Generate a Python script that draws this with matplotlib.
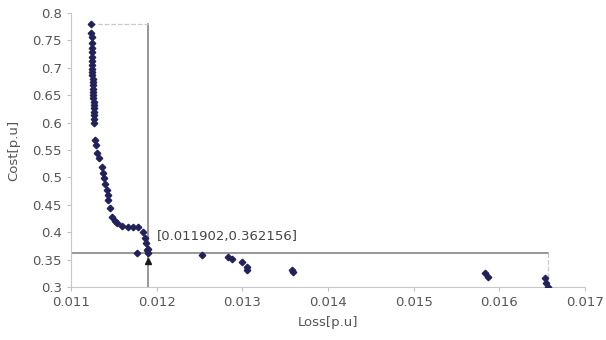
import numpy as np
import matplotlib.pyplot as plt
from matplotlib.ticker import FormatStrFormatter

# Pareto front: loss vs cost (p.u.)
loss = [0.01123, 0.01123, 0.01124, 0.01124, 0.01124, 0.01124, 0.01125, 0.01125,
        0.01125, 0.01125, 0.01125, 0.01125, 0.01126, 0.01126, 0.01126, 0.01126,
        0.01126, 0.01126, 0.01126, 0.01127, 0.01127, 0.01127, 0.01127, 0.01127,
        0.01127, 0.01127,
        0.01128, 0.01129, 0.01130, 0.01133, 0.01136, 0.01137, 0.01138, 0.01140,
        0.01142, 0.01143, 0.01143, 0.01145, 0.01148, 0.01151, 0.01154, 0.01160,
        0.01167, 0.01172, 0.01178, 0.01184, 0.01186, 0.01188, 0.01190, 0.01189,
        0.01177, 0.011902,
        0.01253, 0.01283, 0.01288, 0.01300, 0.01305, 0.01306, 0.01358, 0.01359,
        0.01583, 0.01587, 0.01653, 0.01655, 0.01657]
cost = [0.780, 0.763, 0.756, 0.745, 0.736, 0.729, 0.720, 0.712,
        0.705, 0.698, 0.692, 0.686, 0.680, 0.674, 0.668, 0.662,
        0.656, 0.650, 0.644, 0.638, 0.632, 0.626, 0.620, 0.614,
        0.607, 0.600,
        0.568, 0.560, 0.545, 0.535, 0.519, 0.508, 0.499, 0.488,
        0.477, 0.468, 0.459, 0.445, 0.428, 0.420, 0.417, 0.412,
        0.410, 0.410, 0.409, 0.400, 0.390, 0.380, 0.370, 0.368,
        0.362, 0.362156,
        0.358, 0.355, 0.351, 0.346, 0.337, 0.331, 0.331, 0.328,
        0.3255, 0.318, 0.316, 0.307, 0.300]

best_loss = 0.011902
best_cost = 0.362156
xticks = [0.011, 0.012, 0.013, 0.014, 0.015, 0.016, 0.017]
yticks = [0.3, 0.35, 0.4, 0.45, 0.5, 0.55, 0.6, 0.65, 0.7, 0.75, 0.8]

fig = plt.figure(figsize=(6.06, 3.4), dpi=100)
ax = fig.add_axes([71/606, 53/340, 514/606, 274/340])

min_loss, max_loss = min(loss), max(loss)
max_cost = max(cost)

# cross-hair through the chosen solution
ax.plot([0.011, max_loss], [best_cost, best_cost], color='#7a7a7a', lw=1.1, zorder=1)
ax.plot([best_loss, best_loss], [0.3, max_cost], color='#7a7a7a', lw=1.1, zorder=1)
# light dashed edges of the box
ax.plot([min_loss, best_loss], [max_cost, max_cost], color='#c8c8c8', lw=0.9, ls='--', zorder=1)
ax.plot([max_loss, max_loss], [best_cost, 0.3], color='#c8c8c8', lw=0.9, ls='--', zorder=1)

ax.plot(loss, cost, ls='none', marker='D', ms=3.3, color='#22225a', zorder=3)
ax.plot([best_loss], [best_cost - 0.014], ls='none', marker='^', ms=5, color='#1a1a1a', zorder=4)

ax.text(best_loss + 0.0001, best_cost + 0.018, '[0.011902,0.362156]',
        fontsize=9.5, color='#444444', va='bottom', ha='left')

ax.set_xlim(0.011, 0.017)
ax.set_ylim(0.3, 0.8)
ax.set_xticks(xticks)
ax.set_yticks(yticks)
ax.xaxis.set_major_formatter(FormatStrFormatter('%g'))
ax.yaxis.set_major_formatter(FormatStrFormatter('%g'))
ax.tick_params(labelsize=9.5, colors='#c0c0c0', labelcolor='#555555', length=3)
for s in ['top', 'right']:
    ax.spines[s].set_visible(False)
for s in ['left', 'bottom']:
    ax.spines[s].set_color('#c8c8c8')

ax.set_xlabel('Loss[p.u]', fontsize=9.5, color='#555555', labelpad=5)
ax.set_ylabel('Cost[p.u]', fontsize=9.5, color='#555555', labelpad=9)

fig.savefig('out.png', dpi=100)
